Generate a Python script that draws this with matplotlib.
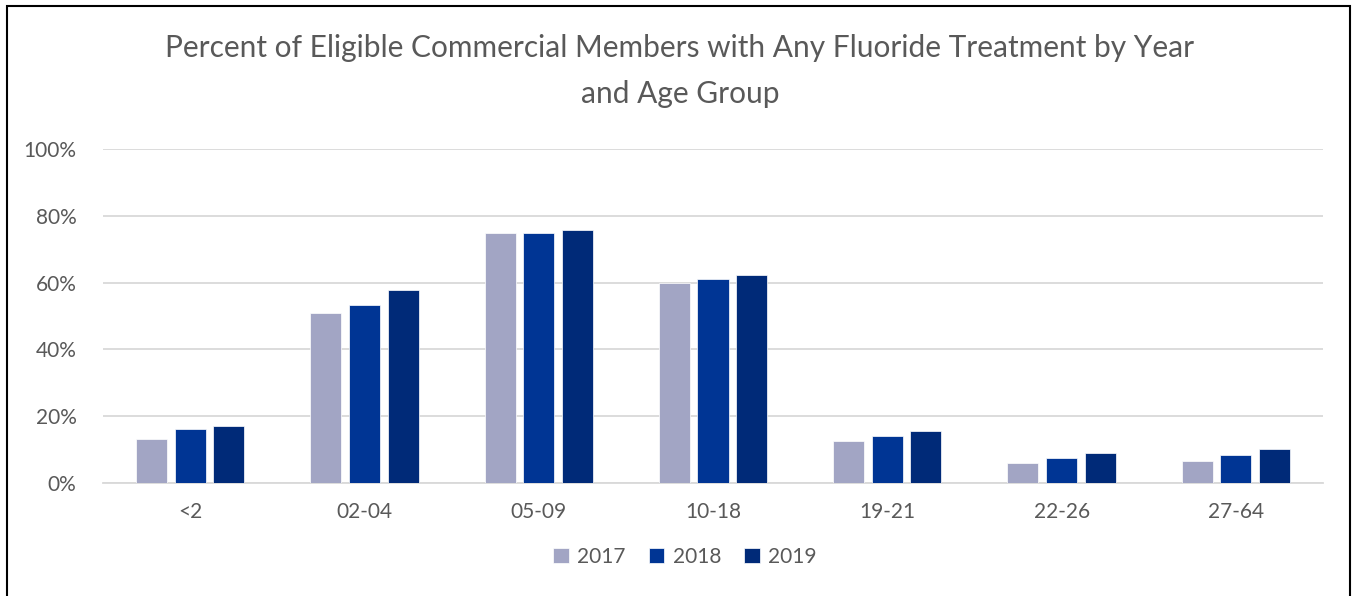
import matplotlib.pyplot as plt
import numpy as np
from matplotlib.patches import Rectangle
from matplotlib.ticker import FuncFormatter

age_groups = ["<2", "02-04", "05-09", "10-18", "19-21", "22-26", "27-64"]
years = ["2017", "2018", "2019"]
pct_2017 = [13.1, 50.9, 74.8, 59.9, 12.5, 6.1, 6.5]
pct_2018 = [16.1, 53.2, 75.0, 61.0, 14.2, 7.4, 8.5]
pct_2019 = [17.0, 57.9, 75.6, 62.4, 15.6, 9.1, 10.3]
colors = ["#A2A5C4", "#003594", "#002A78"]

plt.rcParams['font.family'] = ['Lato', 'DejaVu Sans']
text_gray = "#595959"

fig = plt.figure(figsize=(13.53, 5.96), dpi=100)
W, H = 1353, 596
ax = fig.add_axes([103 / W, 1 - 483 / H, (1323 - 103) / W, (483 - 149) / H])

x = np.arange(len(age_groups))
width = 0.178
offsets = [-0.222, 0, 0.222]
for vals, off, col, yr in zip([pct_2017, pct_2018, pct_2019], offsets, colors, years):
    ax.bar(x + off, vals, width, color=col, edgecolor="white", linewidth=0.5, label=yr, zorder=3)

ax.set_xlim(-0.5, len(age_groups) - 0.5)
ax.set_ylim(0, 100)
ax.set_yticks(range(0, 101, 20))
ax.yaxis.set_major_formatter(FuncFormatter(lambda v, p: f"{int(v)}%"))
ax.grid(axis="y", color="#D9D9D9", linewidth=1.3, zorder=0)
for s in ["top", "right", "left"]:
    ax.spines[s].set_visible(False)
ax.spines["bottom"].set_color("#D9D9D9")
ax.spines["bottom"].set_linewidth(1.3)
ax.set_xticks(x)
ax.set_xticklabels(age_groups)
ax.tick_params(axis="both", length=0, labelsize=15, colors=text_gray)
ax.tick_params(axis="y", pad=19)
ax.tick_params(axis="x", pad=14)

fig.text(680 / W, 1 - 48 / H, "Percent of Eligible Commercial Members with Any Fluoride Treatment by Year",
         ha="center", va="center", fontsize=21.5, color=text_gray)
fig.text(680 / W, 1 - 94 / H, "and Age Group", ha="center", va="center", fontsize=21.5, color=text_gray)

fig.legend(loc="center", bbox_to_anchor=(685 / W, 1 - 557 / H), ncol=3, frameon=False,
           fontsize=15, labelcolor=text_gray, handlelength=0.75, handleheight=0.75,
           handletextpad=0.4, columnspacing=1.1)

fig.patches.append(Rectangle((7 / W, -0.05), (1350 - 7) / W, 1 - 6 / H + 0.05, transform=fig.transFigure,
                             fill=False, edgecolor="black", linewidth=1.5))

fig.savefig("out.png", dpi=100)
